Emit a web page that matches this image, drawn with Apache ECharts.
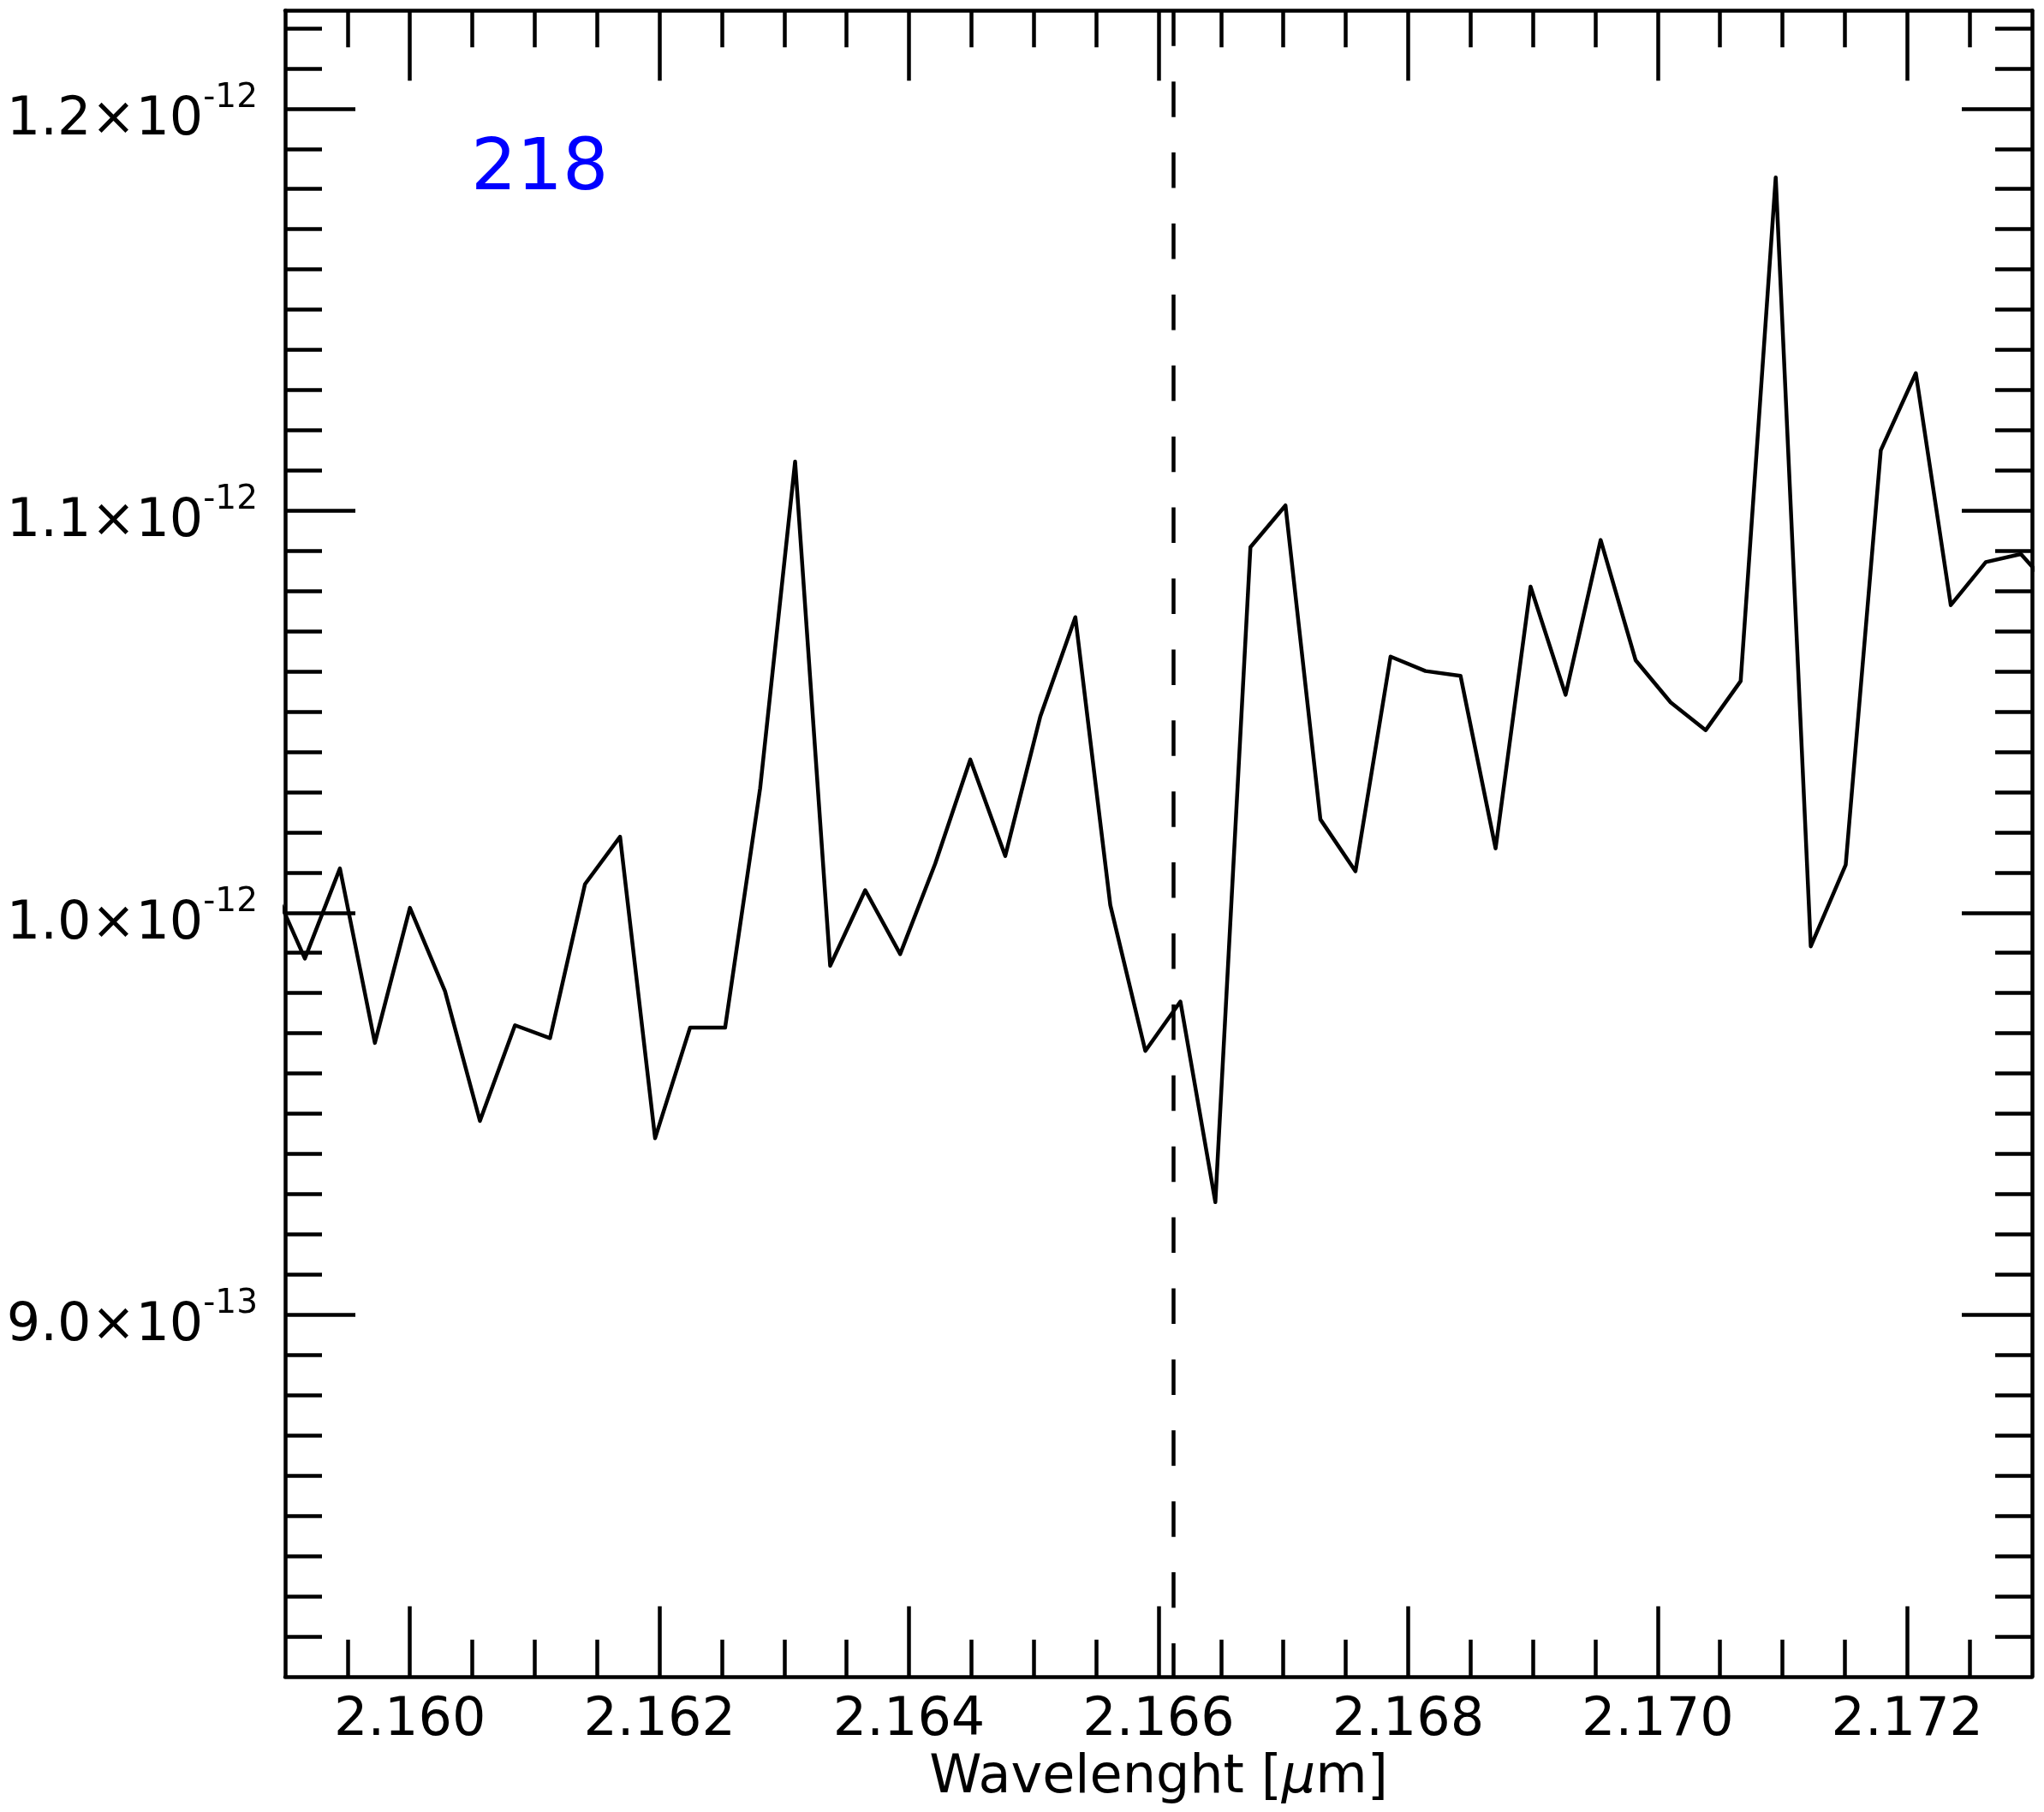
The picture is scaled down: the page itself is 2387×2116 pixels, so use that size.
<!DOCTYPE html>
<html>
<head>
<meta charset="utf-8">
<script src="https://cdn.jsdelivr.net/npm/echarts@6/dist/echarts.min.js"></script>
<style>
html,body{margin:0;padding:0;background:#ffffff;}
#chart{width:2387px;height:2116px;}
</style>
</head>
<body>
<div id="chart"></div>
<script>
// ---- data (wavelength in micron, flux in units of 1e-12) ----
const wavelength = [2.158877, 2.159158, 2.159439, 2.159719, 2.160000, 2.160281, 2.160561, 2.160842,
  2.161123, 2.161403, 2.161684, 2.161965, 2.162245, 2.162526, 2.162807, 2.163087, 2.163368, 2.163649,
  2.163929, 2.164210, 2.164491, 2.164771, 2.165052, 2.165333, 2.165613, 2.165894, 2.166175, 2.166455,
  2.166736, 2.167017, 2.167297, 2.167578, 2.167859, 2.168139, 2.168420, 2.168701, 2.168981, 2.169262,
  2.169543, 2.169823, 2.170104, 2.170385, 2.170665, 2.170946, 2.171227, 2.171507, 2.171788, 2.172069,
  2.172349, 2.172630, 2.172911, 2.173192];
const flux_e12 = [1.0082, 0.9886, 1.0110, 0.9676, 1.0012, 0.9805, 0.9482, 0.9720,
  0.9688, 1.0071, 1.0189, 0.9439, 0.9714, 0.9714, 1.0310, 1.1122, 0.9868, 1.0056,
  0.9897, 1.0122, 1.0381, 1.0141, 1.0488, 1.0735, 1.0019, 0.9656, 0.9779, 0.9280,
  1.0909, 1.1013, 1.0232, 1.0103, 1.0637, 1.0601, 1.0589, 1.0160, 1.0811, 1.0542,
  1.0927, 1.0628, 1.0523, 1.0454, 1.0576, 1.1829, 0.9916, 1.0119, 1.1150, 1.1342,
  1.0765, 1.0872, 1.0892, 1.0794];
const BR_GAMMA = 2.16612;           // dashed reference line
const X_MIN = 2.159, X_MAX = 2.173;
const Y_MIN = 0.81, Y_MAX = 1.2244;
const xMajorTicks = [2.160, 2.162, 2.164, 2.166, 2.168, 2.170, 2.172];
const xTickLabels = ['2.160', '2.162', '2.164', '2.166', '2.168', '2.170', '2.172'];
const X_MINOR_STEP = 0.0005;
const yMajorTicks = [0.9, 1.0, 1.1, 1.2];
const yTickMantissa = ['9.0', '1.0', '1.1', '1.2'];
const yTickExponent = ['-13', '-12', '-12', '-12'];
const Y_MINOR_STEP = 0.01;
const annotationText = '218';
const xTitle = 'Wavelenght [{i|μ}m]';

// ---- derived tick lists ----
const xMinorTicks = [];
for (let k = 1; X_MIN + k * X_MINOR_STEP < X_MAX - 1e-9; k++) {
  xMinorTicks.push(+(X_MIN + k * X_MINOR_STEP).toFixed(5));
}
const yMinorTicks = [];
for (let k = 1; Y_MIN + k * Y_MINOR_STEP < Y_MAX - 1e-9; k++) {
  yMinorTicks.push(+(Y_MIN + k * Y_MINOR_STEP).toFixed(4));
}
const series = wavelength.map((w, i) => [w, flux_e12[i]]);

const FONT = 'DejaVu Sans';
const BLACK = '#000000';
const gridBox = {left: 333, right: 14, top: 12.3, bottom: 158.2};
const axisLineStyle = {show: true, lineStyle: {color: BLACK, width: 4.5}};

function findIdx(arr, v) {
  for (let i = 0; i < arr.length; i++) if (Math.abs(arr[i] - v) < 1e-6) return i;
  return -1;
}

function xAxisDef(grid, pos, major, withLabel) {
  const a = {
    type: 'value', gridIndex: grid, position: pos, min: X_MIN, max: X_MAX,
    axisLine: major ? axisLineStyle : {show: false},
    axisTick: {show: true, inside: true, length: major ? 82 : 43,
      customValues: major ? xMajorTicks : xMinorTicks,
      lineStyle: {color: BLACK, width: 4.5}},
    axisLabel: {show: false},
    splitLine: {show: false}
  };
  if (withLabel) {
    a.axisLabel = {show: true, customValues: xMajorTicks, margin: 20.8,
      formatter: v => { const i = findIdx(xMajorTicks, v); return i >= 0 ? xTickLabels[i] : ''; },
      color: BLACK, fontFamily: FONT, fontSize: 62, lineHeight: 62};
    a.name = xTitle;
    a.nameLocation = 'middle';
    a.nameGap = 81.8;
    a.nameTextStyle = {color: BLACK, fontFamily: FONT, fontSize: 62, lineHeight: 62,
      rich: {i: {fontStyle: 'italic', fontFamily: FONT, fontSize: 62, lineHeight: 62, color: BLACK}}};
  }
  return a;
}

function yAxisDef(grid, pos, major, withLabel) {
  const a = {
    type: 'value', gridIndex: grid, position: pos, min: Y_MIN, max: Y_MAX,
    axisLine: major ? axisLineStyle : {show: false},
    axisTick: {show: true, inside: true, length: major ? 82 : 43,
      customValues: major ? yMajorTicks : yMinorTicks,
      lineStyle: {color: BLACK, width: 4.5}},
    axisLabel: {show: false},
    splitLine: {show: false}
  };
  if (withLabel) {
    a.axisLabel = {show: true, customValues: yMajorTicks, margin: 32,
      formatter: v => {
        const i = findIdx(yMajorTicks, v);
        return i >= 0 ? '{m|' + yTickMantissa[i] + '×10}{e|' + yTickExponent[i] + '}' : '';
      },
      rich: {
        m: {fontFamily: FONT, fontSize: 62, lineHeight: 90, height: 62, color: BLACK,
            verticalAlign: 'bottom'},
        e: {fontFamily: FONT, fontSize: 39, lineHeight: 50, height: 66, color: BLACK,
            verticalAlign: 'top'}
      }};
  }
  return a;
}

const chart = echarts.init(document.getElementById('chart'), null, {renderer: 'canvas'});
chart.setOption({
  animation: false,
  backgroundColor: '#ffffff',
  title: {text: annotationText, left: 550, top: 157, padding: 0,
    textStyle: {color: '#0000ff', fontFamily: FONT, fontSize: 84, lineHeight: 84, fontWeight: 'normal'}},
  grid: [Object.assign({}, gridBox), Object.assign({}, gridBox)],
  xAxis: [
    xAxisDef(0, 'bottom', true, true),
    xAxisDef(0, 'top', true, false),
    xAxisDef(1, 'bottom', false, false),
    xAxisDef(1, 'top', false, false)
  ],
  yAxis: [
    yAxisDef(0, 'left', true, true),
    yAxisDef(0, 'right', true, false),
    yAxisDef(1, 'left', false, false),
    yAxisDef(1, 'right', false, false)
  ],
  series: [
    {type: 'line', xAxisIndex: 0, yAxisIndex: 0, data: series, showSymbol: false, symbol: 'none',
      clip: true, silent: true, z: 3,
      lineStyle: {color: BLACK, width: 4.5, join: 'round', cap: 'butt'}},
    {type: 'line', xAxisIndex: 0, yAxisIndex: 0, data: [[BR_GAMMA, Y_MAX], [BR_GAMMA, Y_MIN]],
      showSymbol: false, symbol: 'none', clip: true, silent: true, z: 2,
      lineStyle: {color: BLACK, width: 4.5, type: [41.5, 41.4], cap: 'butt'}}
  ]
});
</script>
</body>
</html>
